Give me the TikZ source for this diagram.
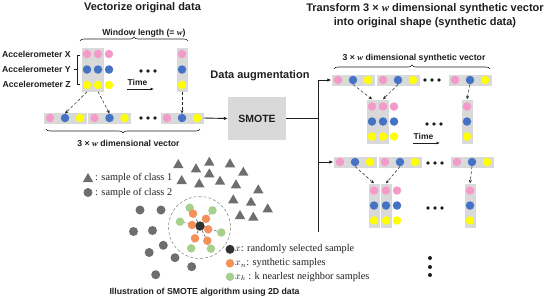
\documentclass[tikz,border=0pt]{standalone}
\usepackage{fontspec}
\setmainfont{Liberation Serif}
\newfontfamily\hsans{Liberation Sans}
\usetikzlibrary{arrows.meta,decorations.pathreplacing,shapes.geometric}
\definecolor{pinkc}{RGB}{244,154,200}
\definecolor{bluec}{RGB}{68,114,196}
\definecolor{yellowc}{RGB}{255,255,0}
\definecolor{boxgray}{RGB}{217,217,217}
\definecolor{orangec}{RGB}{244,145,90}
\definecolor{greenc}{RGB}{168,208,141}
\definecolor{ptgray}{RGB}{110,110,110}
\definecolor{ctr}{RGB}{50,50,50}
\definecolor{inkc}{RGB}{30,30,30}
\newcommand\ww{{\rmfamily\itshape w}}
\newcommand\hvec[3]{%
  \node[hbox] (#1) at (#2,#3) {};
  \node[pk] (#1a) at (#2-15,#3) {};
  \node[bl] (#1b) at (#2,#3) {};
  \node[yl] (#1c) at (#2+15,#3) {};}
\newcommand\vcolb[4]{% name, cx, cy, spacing
  \node[vbox] (#1) at (#2,#3) {};
  \node[pk] (#1a) at (#2,#3-#4) {};
  \node[bl] (#1b) at (#2,#3) {};
  \node[yl] (#1c) at (#2,#3+#4) {};}
\newcommand\vcoln[4]{%
  \node[pk] (#1a) at (#2,#3-#4) {};
  \node[bl] (#1b) at (#2,#3) {};
  \node[yl] (#1c) at (#2,#3+#4) {};}
\newcommand\hdots[2]{\foreach \k in {0,1,2}{\fill[inkc] (#1+7*\k,#2) circle (1.9);}}
\begin{document}
\begin{tikzpicture}[x=1pt,y=-1pt,
  cell/.style={circle,inner sep=0pt,minimum size=8.5pt},
  pk/.style={cell,fill=pinkc},
  bl/.style={cell,fill=bluec},
  yl/.style={cell,fill=yellowc},
  hbox/.style={rectangle,fill=boxgray,inner sep=0pt,minimum width=43pt,minimum height=11pt},
  vbox/.style={rectangle,fill=boxgray,inner sep=0pt,minimum width=11pt,minimum height=44pt},
  dasharr/.style={-{Stealth[length=3.5pt,width=3pt]},densely dashed,line width=0.5pt,inkc},
  mainline/.style={line width=0.9pt,inkc},
  mainarr/.style={mainline,-{Latex[length=4pt,width=3.5pt]}},
  brc/.style={decorate,decoration={brace,amplitude=4pt},line width=0.6pt,inkc},
  lbl/.style={font=\hsans\bfseries\fontsize{8.7}{10}\selectfont,inner sep=0pt,text=inkc},
  ttl/.style={font=\hsans\bfseries\fontsize{11}{14}\selectfont,inner sep=0pt,align=center,text=inkc},
  leg/.style={font=\fontsize{10.3}{12}\selectfont,inner sep=0pt,anchor=west,text=inkc},
  tri/.style={regular polygon,regular polygon sides=3,minimum size=12pt,inner sep=0pt,fill=ptgray},
  gpt/.style={circle,inner sep=0pt,minimum size=9pt,fill=ptgray},
  opt/.style={circle,inner sep=0pt,minimum size=8.5pt,fill=orangec},
  grp/.style={circle,inner sep=0pt,minimum size=8.5pt,fill=greenc},
  cpt/.style={circle,inner sep=0pt,minimum size=9pt,fill=ctr},
  timearr/.style={-{Latex[length=3.5pt,width=3pt]},line width=0.7pt,inkc},
]
\useasboundingbox (0,0) rectangle (550,301);

% ---------- left: vectorize original data ----------
\node[ttl] (t1) at (142.5,8) {Vectorize original data};
\node[lbl] (wl) at (144,33) {Window length (= \ww)};
\draw[brc] (80,41) -- (188,41);

\node[lbl,anchor=east] (ax) at (71,54.5) {Accelerometer X};
\node[lbl,anchor=east] (ay) at (71,69.5) {Accelerometer Y};
\node[lbl,anchor=east] (az) at (71,84.5) {Accelerometer Z};
\draw[line width=0.7pt,inkc] (80,55) -- (77,55) -- (77,84) -- (80,84);
\draw[line width=0.7pt,inkc] (77,69.5) -- (74,69.5);

\vcolb{lc1}{87}{69.5}{15.5}
\vcolb{lc2}{98}{69.5}{15.5}
\vcoln{lc3}{109}{69.5}{15.5}
\vcolb{lc4}{182}{69.5}{15.5}
\hdots{141}{71}
\node[lbl,font=\hsans\bfseries\fontsize{8.5}{10}\selectfont] (tm1) at (137.5,82) {Time};
\coordinate (tm1s) at (127,89);
\coordinate (tm1e) at (154,89);
\draw[timearr] (tm1s) -- (tm1e);

\hvec{lv1}{65}{118}
\hvec{lv2}{109.5}{118}
\hdots{141}{118}
\hvec{lv3}{182}{118}
\draw[dasharr] (lc1.south) -- (lv1b.north);
\draw[dasharr] (lc2.south) -- (lv2b.north);
\draw[dasharr] (lc4.south) -- (lv3b.north);
\draw[brc] (200,129) -- (46,129);
\node[lbl] (dv) at (128.5,143) {3 × \ww\ dimensional vector};

% ---------- SMOTE ----------
\node[ttl] (da) at (260,76) {Data augmentation};
\node[rectangle,fill=boxgray,minimum width=58pt,minimum height=43pt,inner sep=0pt,
      font=\hsans\bfseries\fontsize{10.5}{12}\selectfont,text=inkc] (smote) at (257,118.5) {SMOTE};
\draw[mainarr] (lv3.east) -- (smote.west);
\coordinate (j0) at (318,118.5);
\coordinate (j1) at (318,80);
\coordinate (j2) at (318,162);
\coordinate (jend) at (318,232);
\draw[mainline] (smote.east) -- (j0);
\draw[mainline] (j1) -- (jend);

% ---------- right: transform ----------
\node[ttl] (t2) at (425,16) {Transform 3 × \ww\ dimensional synthetic vector\\into original shape (synthetic data)};
\node[lbl] (dsv) at (414,58) {3 × \ww\ dimensional synthetic vector};
\draw[brc] (334,69) -- (490,69);

\hvec{rv1}{353}{80}
\hvec{rv2}{398}{80}
\hdots{425}{80}
\hvec{rv3}{470}{80}
\draw[mainarr] (j1) -- (rv1.west);

\vcolb{rc1}{372}{121.5}{15}
\vcolb{rc2}{383}{121.5}{15}
\vcoln{rc3}{394}{121.5}{15}
\vcolb{rc4}{467}{121.5}{15}
\hdots{427}{124}
\draw[dasharr] (rv1b.south) -- (rc1.north);
\draw[dasharr] (rv2b.south) -- (rc2.north);
\draw[dasharr] (rv3b.south) -- (rc4.north);
\node[lbl,font=\hsans\bfseries\fontsize{8.5}{10}\selectfont] (tm2) at (423.5,136) {Time};
\coordinate (tm2s) at (413,143);
\coordinate (tm2e) at (440,143);
\draw[timearr] (tm2s) -- (tm2e);

\hvec{sv1}{355}{162}
\hvec{sv2}{400}{162}
\hdots{428}{163}
\hvec{sv3}{472}{162}
\draw[mainarr] (j2) -- (sv1.west);

\vcolb{sc1}{374}{205.5}{15}
\vcolb{sc2}{386}{205.5}{15}
\vcoln{sc3}{397}{205.5}{15}
\vcolb{sc4}{470}{205.5}{15}
\hdots{428}{208}
\draw[dasharr] (sv1b.south) -- (sc1.north);
\draw[dasharr] (sv2b.south) -- (sc2.north);
\draw[dasharr] (sv3b.south) -- (sc4.north);

\foreach \yy in {258,267,275}{\fill[inkc] (430,\yy) circle (2);}

% ---------- bottom-left: SMOTE illustration ----------
\foreach \p in {(178.3,165),(196,169.3),(209.3,162.7),(230,164.3),(209.3,174.3),(243.3,172.7),
  (181.7,181),(199.3,184.3),(220,181.7),(236,185.3),(258.3,190.3),(233.3,200.3),(251,202.7),
  (267.7,209.3),(240,216),(253.3,217.7)}{\node[tri] at \p {};}
\foreach \p in {(140,210),(161,210),(133.5,231.5),(152.5,230.5),(163.3,245.3),(149.2,252.5),
  (175,257.7),(191.7,266.7),(155.7,274.7)}{\node[gpt] at \p {};}

\draw[densely dashed,line width=0.5pt,gray] (199.5,227.5) circle (31);
\node[cpt] (cx) at (200,226) {};
\node[grp] (g1) at (189.7,207.8) {};
\node[grp] (g2) at (212.5,210.4) {};
\node[grp] (g3) at (180,221.7) {};
\node[grp] (g4) at (221.3,232.5) {};
\node[grp] (g5) at (191.2,248.3) {};
\node[grp] (g6) at (210.9,248.7) {};
\foreach \g in {g1,g2,g3,g4,g5,g6}{\draw[densely dashed,line width=0.45pt,ctr] (cx) -- (\g);}
\node[opt] (o1) at (193,213.6) {};
\node[opt] (o2) at (206,218.8) {};
\node[opt] (o3) at (192,225) {};
\node[opt] (o4) at (208.2,229.3) {};
\node[opt] (o5) at (195,238.3) {};
\node[opt] (o6) at (207.3,240.7) {};
\node[cpt] (cx2) at (200,226) {};

\node[tri] (lt) at (88,179) {};
\node[leg] (ltt) at (95,178) {: sample of class 1};
\node[gpt] (lc) at (88,192.5) {};
\node[leg] (lct) at (95,192.5) {: sample of class 2};

\node[cpt] (lk) at (230,249.3) {};
\node[leg] (lkt) at (235,249.3) {$x$: randomly selected sample};
\node[opt] (lo) at (230,263.3) {};
\node[leg] (lot) at (235,263.3) {$x_n$: synthetic samples};
\node[grp] (lg) at (230,276.8) {};
\node[leg] (lgt) at (235,276.8) {$x_k$ : k nearlest neighbor samples};

\node[lbl] (ill) at (204.5,292) {Illustration of SMOTE algorithm using 2D data};
\end{tikzpicture}
\end{document}
